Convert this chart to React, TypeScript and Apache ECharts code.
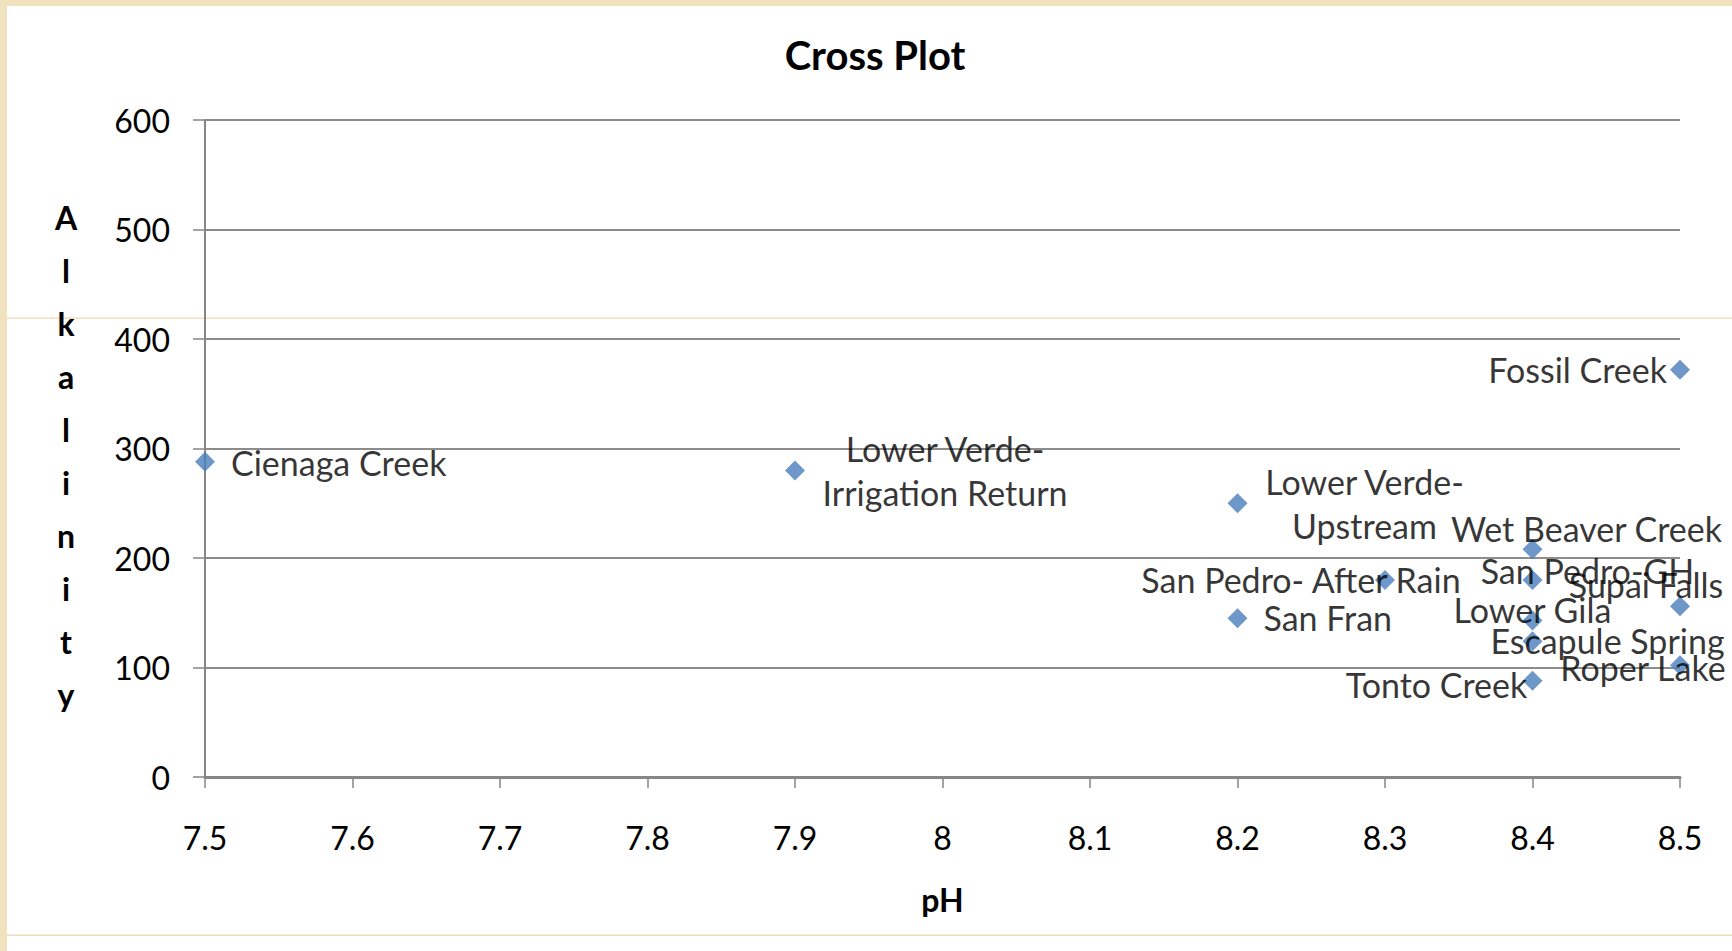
import React, { useEffect, useRef } from "react";
import * as echarts from "echarts";

// ---- data ----
const siteNames: string[] = [
  "Cienaga Creek",
  "Lower Verde-\nIrrigation Return",
  "Lower Verde-\nUpstream",
  "San Fran",
  "San Pedro- After Rain",
  "Wet Beaver Creek",
  "San Pedro-GH",
  "Supai Falls",
  "Lower Gila",
  "Escapule Spring",
  "Roper Lake",
  "Tonto Creek",
  "Fossil Creek",
];
const phValues: number[] = [7.5, 7.9, 8.2, 8.2, 8.3, 8.4, 8.4, 8.5, 8.4, 8.4, 8.5, 8.4, 8.5];
const alkalinityValues: number[] = [288, 280, 250, 145, 180, 208, 180, 156, 143, 124, 102, 88, 372];

const xTickMin = 7.5;
const xTickMax = 8.5;
const xTickStep = 0.1;
const yTickMin = 0;
const yTickMax = 600;
const yTickStep = 100;

const titleText = "Cross Plot";
const xTitle = "pH";
const yTitle = "Alkalinity";

// label layout (style only): [align, dx, dy] in px from the marker centre
const labelLayout: [string, number, number][] = [
  ["left", 26, 0.5],
  ["center", 150, 0.5],
  ["center", 127, 0.5],
  ["left", 26, -0.5],
  ["center", -84, -0.5],
  ["center", 54, -20.5],
  ["center", 55, -9.5],
  ["center", -34, -21.5],
  ["center", 0, -10.5],
  ["center", 75, -0.5],
  ["center", -37, 2.5],
  ["center", -96, 3.5],
  ["right", -13, -0.5],
];

const SYMBOL_SIZE = 20;
const FONT = "Lato, 'Open Sans', sans-serif";

const pct = (d: number) => `${50 + (d / SYMBOL_SIZE) * 100}%`;

export default function App() {
  const ref = useRef<HTMLDivElement>(null);

  useEffect(() => {
    if (!ref.current) return;
    const chart = echarts.init(ref.current, undefined, { renderer: "svg" });

    const data = siteNames.map((name, i) => {
      const [align, dx, dy] = labelLayout[i];
      return {
        name,
        value: [phValues[i], alkalinityValues[i]],
        label: {
          show: true,
          position: [pct(dx), pct(dy)],
          align,
          verticalAlign: "middle",
        },
      };
    });

    chart.setOption({
      animation: false,
      backgroundColor: "#ffffff",
      textStyle: { fontFamily: FONT },
      title: {
        text: titleText,
        left: 870,
        top: 30,
        textAlign: "center",
        textStyle: { fontFamily: FONT, fontWeight: "bold", fontSize: 40, color: "#000" },
      },
      graphic: [
        { type: "rect", z: -10, shape: { x: 0, y: 0, width: 1732, height: 6 }, style: { fill: "#f1e2bd" } },
        { type: "rect", z: -10, shape: { x: 0, y: 0, width: 7, height: 951 }, style: { fill: "#f0e2bf" } },
        { type: "rect", z: -10, shape: { x: 7, y: 934.5, width: 1725, height: 1.5 }, style: { fill: "#ecdcb8" } },
        { type: "rect", z: -10, shape: { x: 7, y: 317.5, width: 1725, height: 1.2 }, style: { fill: "#ecd8b2" } },
        {
          type: "text",
          x: 66,
          y: 456,
          style: {
            text: yTitle.split("").join("\n"),
            fontFamily: FONT,
            fontWeight: "bold",
            fontSize: 32,
            lineHeight: 53,
            fill: "#000",
            align: "center",
            verticalAlign: "middle",
          },
        },
      ],
      grid: { left: 205, top: 120, right: 52, bottom: 174, containLabel: false },
      xAxis: {
        type: "value",
        min: xTickMin,
        max: xTickMax,
        interval: xTickStep,
        name: xTitle,
        nameLocation: "middle",
        nameGap: 106,
        nameTextStyle: { fontFamily: FONT, fontWeight: "bold", fontSize: 32, color: "#000" },
        axisLine: { show: true, lineStyle: { color: "#868686", width: 3 } },
        axisTick: { show: true, length: 11, lineStyle: { color: "#868686", width: 1.5 } },
        axisLabel: { fontFamily: FONT, fontSize: 32, color: "#000", margin: 44 },
        splitLine: { show: false },
      },
      yAxis: {
        type: "value",
        min: yTickMin,
        max: yTickMax,
        interval: yTickStep,
        axisLine: { show: true, lineStyle: { color: "#868686", width: 2 } },
        axisTick: { show: true, length: 12, lineStyle: { color: "#868686", width: 1.5 } },
        axisLabel: { fontFamily: FONT, fontSize: 32, color: "#000", margin: 35 },
        splitLine: { show: true, lineStyle: { color: "#8c8c8c", width: 2 } },
      },
      series: [
        {
          type: "scatter",
          symbol: "diamond",
          symbolSize: SYMBOL_SIZE,
          itemStyle: { color: "#4a7ebb" },
          label: {
            show: true,
            formatter: "{b}",
            fontFamily: FONT,
            fontSize: 34,
            color: "#000",
            lineHeight: 44,
          },
          labelLayout: { hideOverlap: false },
          emphasis: { disabled: true },
          data,
        },
      ],
    });

    return () => chart.dispose();
  }, []);

  return (
    <div
      ref={ref}
      style={{ position: "fixed", left: 0, top: 0, width: 1732, height: 951, background: "#fff" }}
    />
  );
}
